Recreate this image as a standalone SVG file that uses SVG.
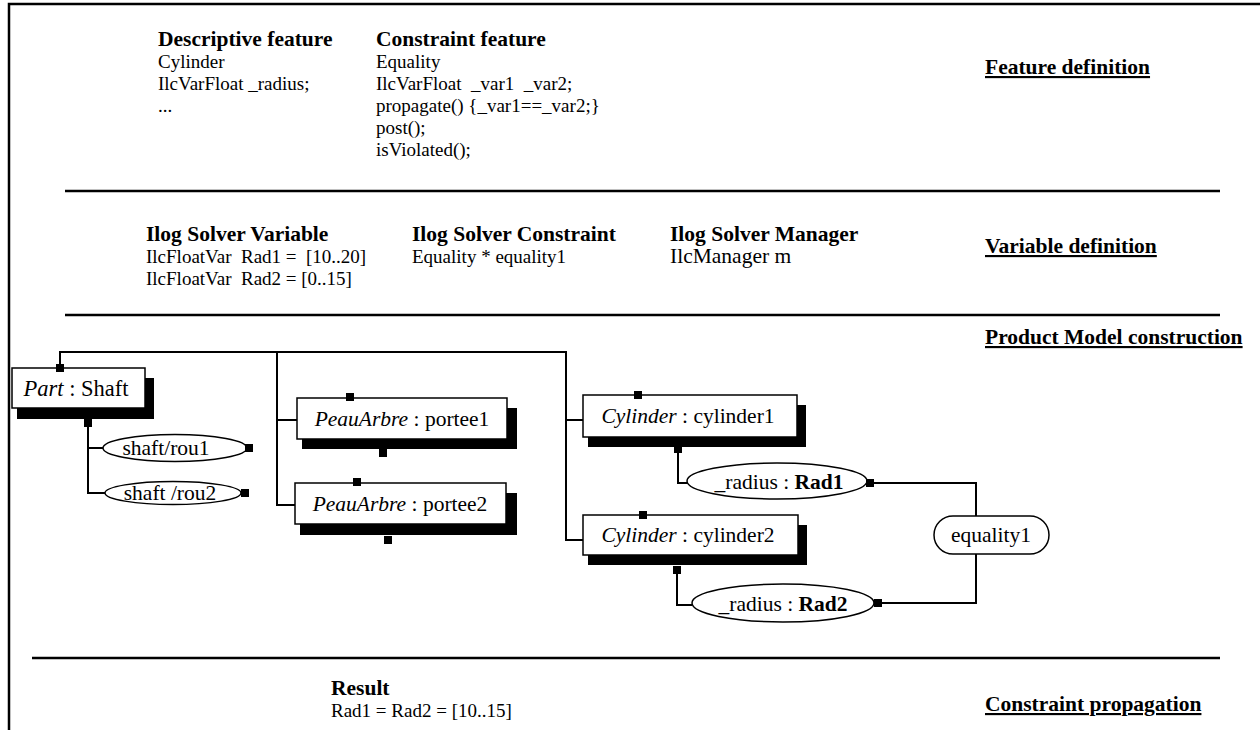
<svg xmlns="http://www.w3.org/2000/svg" width="1260" height="730" viewBox="0 0 1260 730">
<style>
text{font-family:"Liberation Serif","Times New Roman",serif;font-size:19px;fill:#000}
.b{font-weight:bold;font-size:21.5px}
.u{font-weight:bold;font-size:21.5px;text-decoration:underline}
.c{text-anchor:middle}
.n{font-size:21.5px}
.p{font-size:22.5px}
.sep{stroke:#000;stroke-width:2.5;fill:none}
.con{stroke:#000;stroke-width:2;fill:none}
.box{fill:#fff;stroke:#000;stroke-width:1.5}
.sh{fill:#000}
.sq{fill:#000}
</style>
<rect width="1260" height="730" fill="#fff"/>
<g id="frame">
<path class="sep" d="M9 730 V4 H1260"/>
<path class="sep" d="M65 191 H1220"/>
<path class="sep" d="M65 315 H1220"/>
<path class="sep" d="M32 658 H1220"/>
</g>
<g id="sec-feature">
<text x="158" y="46" class="b">Descriptive feature</text>
<text x="158" y="68">Cylinder</text>
<text x="158" y="90">IlcVarFloat _radius;</text>
<text x="158" y="112">...</text>
<text x="376" y="46" class="b">Constraint feature</text>
<text x="376" y="68">Equality</text>
<text x="376" y="90" xml:space="preserve">IlcVarFloat  _var1  _var2;</text>
<text x="376" y="112">propagate() {_var1==_var2;}</text>
<text x="376" y="134">post();</text>
<text x="376" y="156">isViolated();</text>
<text x="985" y="74" class="u">Feature definition</text>
</g>
<g id="sec-variable">
<text x="146" y="241" class="b">Ilog Solver Variable</text>
<text x="146" y="263" xml:space="preserve">IlcFloatVar  Rad1 =  [10..20]</text>
<text x="146" y="285" xml:space="preserve">IlcFloatVar  Rad2 = [0..15]</text>
<text x="412" y="241" class="b">Ilog Solver Constraint</text>
<text x="412" y="263">Equality * equality1</text>
<text x="670" y="241" class="b">Ilog Solver Manager</text>
<text x="670" y="263" class="n">IlcManager m</text>
<text x="985" y="253" class="u">Variable definition</text>
</g>
<g id="sec-model-label">
<text x="985" y="344" class="u">Product Model construction</text>
</g>
<g id="connectors">
<path class="con" d="M60 368 V352 H566 V540 H583"/>
<path class="con" d="M566 420 H583"/>
<path class="con" d="M277 352 V505 H295"/>
<path class="con" d="M277 420 H297"/>
<path class="con" d="M88 423 V493 H105"/>
<path class="con" d="M88 448 H103"/>
<path class="con" d="M678 449 V483 H688"/>
<path class="con" d="M677 570 V605 H692"/>
<path class="con" d="M870 483 H976 V516"/>
<path class="con" d="M976 554 V603 H878"/>
</g>
<g id="part">
<rect class="sh" x="17" y="378" width="137" height="41"/>
<rect class="box" x="12" y="368" width="133" height="40"/>
<text x="76" y="396" class="c p"><tspan font-style="italic">Part</tspan> : Shaft</text>
<rect class="sq" x="56" y="364" width="8" height="8"/>
<rect class="sq" x="84" y="419" width="8" height="8"/>
</g>
<g id="rou1">
<ellipse class="box" cx="175" cy="448" rx="72" ry="13.5"/>
<text x="166" y="455" class="c n">shaft/rou1</text>
<rect class="sq" x="245" y="444" width="8" height="8"/>
</g>
<g id="rou2">
<ellipse class="box" cx="173" cy="493" rx="68" ry="11.5"/>
<text x="170" y="500" class="c n">shaft /rou2</text>
<rect class="sq" x="241" y="489" width="8" height="8"/>
</g>
<g id="portee1">
<rect class="sh" x="302" y="408" width="215" height="41"/>
<rect class="box" x="297" y="398" width="210" height="41"/>
<text x="402" y="426" class="c n"><tspan font-style="italic">PeauArbre</tspan> : portee1</text>
<rect class="sq" x="346" y="393" width="8" height="8"/>
<rect class="sq" x="379" y="449" width="8" height="8"/>
</g>
<g id="portee2">
<rect class="sh" x="300" y="493" width="217" height="42"/>
<rect class="box" x="295" y="483" width="211" height="41"/>
<text x="400" y="511" class="c n"><tspan font-style="italic">PeauArbre</tspan> : portee2</text>
<rect class="sq" x="353" y="478" width="8" height="8"/>
<rect class="sq" x="384" y="536" width="8" height="8"/>
</g>
<g id="cylinder1">
<rect class="sh" x="588" y="405" width="218" height="42"/>
<rect class="box" x="583" y="395" width="214" height="42"/>
<text x="688" y="423" class="c n"><tspan font-style="italic">Cylinder</tspan> : cylinder1</text>
<rect class="sq" x="634" y="391" width="8" height="8"/>
<rect class="sq" x="674" y="445" width="8" height="8"/>
</g>
<g id="cylinder2">
<rect class="sh" x="588" y="525" width="219" height="40"/>
<rect class="box" x="583" y="515" width="215" height="40"/>
<text x="688" y="542" class="c n"><tspan font-style="italic">Cylinder</tspan> : cylinder2</text>
<rect class="sq" x="639" y="511" width="8" height="8"/>
<rect class="sq" x="673" y="566" width="8" height="8"/>
</g>
<g id="rad1">
<ellipse class="box" cx="777" cy="481" rx="90" ry="18"/>
<text x="779" y="489" class="c n">_radius : <tspan font-weight="bold">Rad1</tspan></text>
<rect class="sq" x="866" y="479" width="8" height="8"/>
</g>
<g id="rad2">
<ellipse class="box" cx="783" cy="603" rx="91" ry="19"/>
<text x="783" y="611" class="c n">_radius : <tspan font-weight="bold">Rad2</tspan></text>
<rect class="sq" x="874" y="599" width="8" height="8"/>
</g>
<g id="equality1">
<rect class="box" x="934" y="516" width="115" height="38" rx="19" ry="19"/>
<text x="991" y="542" class="c n">equality1</text>
</g>
<g id="sec-result">
<text x="331" y="695" class="b">Result</text>
<text x="331" y="717">Rad1 = Rad2 = [10..15]</text>
<text x="985" y="711" class="u">Constraint propagation</text>
</g>
</svg>
